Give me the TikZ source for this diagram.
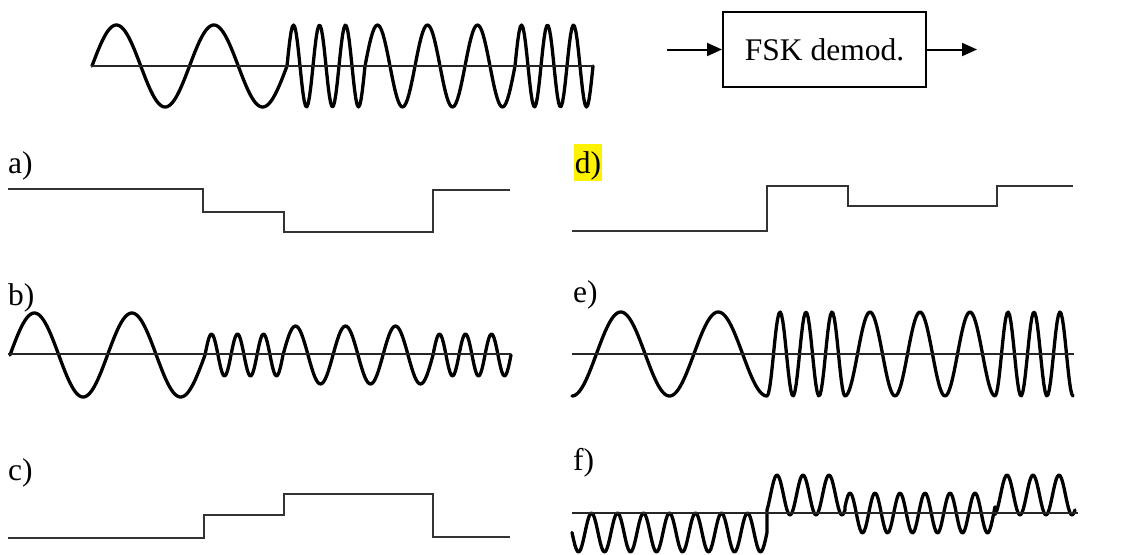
\documentclass[tikz,border=0pt]{standalone}
\usepackage{fontspec}
\setmainfont{Liberation Serif}
\usetikzlibrary{arrows.meta}
\begin{document}
\begin{tikzpicture}[x=1pt,y=-1pt,
  wave/.style={line width=3.3pt, line join=round, line cap=round, black},
  axisline/.style={line width=1.4pt, black!85},
  level/.style={line width=2.2pt, black!80, line join=miter},
  lab/.style={anchor=base west, inner sep=0pt, text height=29pt, text depth=8pt, font=\fontsize{31.5}{31.5}\selectfont},
  blockbox/.style={draw, line width=2pt, minimum width=203pt, minimum height=75pt, inner sep=0pt, font=\fontsize{31.5}{31.5}\selectfont},
  arr/.style={line width=2pt, -{Triangle[length=15pt,width=13pt]}}]
\useasboundingbox (0,0) rectangle (1121,554);

% ---- top: input signal and demodulator block
\draw[wave] plot[domain=92:287,samples=130] (\x,{66-41*sin(((\x-92)/97.5)*360)})
 -- plot[domain=287:365,samples=60] (\x,{66-41*sin(((\x-287)/26)*360)})
 -- plot[domain=365:515,samples=100] (\x,{66-41*sin(((\x-365)/50)*360)})
 -- plot[domain=515:593,samples=60] (\x,{66-41*sin(((\x-515)/26)*360)});
\draw[axisline] (91,66) -- (593,66);

\node[blockbox] (demod) at (824.5,49.5) {FSK demod.};
\coordinate (in) at (667,49.5);
\coordinate (out) at (977,49.5);
\draw[arr] (in) -- (demod.west);
\draw[arr] (demod.east) -- (out);

% ---- labels
\node[lab] (la) at (8,173) {a)};
\node[lab, fill=yellow, inner xsep=0.6pt] (ld) at (574,173) {d)};
\node[lab] (lb) at (8,305) {b)};
\node[lab] (le) at (573,302) {e)};
\node[lab] (lc) at (8,480) {c)};
\node[lab] (lf) at (573,470) {f)};

% ---- a)
\draw[level] (8,189) -- (203,189) -- (203,212) -- (284,212) -- (284,232) -- (433,232) -- (433,190) -- (510,190);
% ---- d)
\draw[level] (572,231) -- (767,231) -- (767,186) -- (848,186) -- (848,206) -- (997,206) -- (997,186) -- (1073,186);
% ---- c)
\draw[level] (8,538) -- (204,538) -- (204,515) -- (284,515) -- (284,494) -- (433,494) -- (433,537) -- (510,537);

% ---- b)
\draw[wave] plot[domain=10:205,samples=130] (\x,{355-42*sin(((\x-10)/97.5)*360)})
 -- plot[domain=205:283,samples=60] (\x,{355-21*sin(((\x-205)/26)*360)})
 -- plot[domain=283:433,samples=100] (\x,{355-29*sin(((\x-283)/50)*360)})
 -- plot[domain=433:511,samples=60] (\x,{355-21*sin(((\x-433)/26)*360)});
\draw[axisline] (8,354) -- (511,354);

% ---- e)
\draw[wave] plot[domain=572:767,samples=130] (\x,{354+42*cos(((\x-572)/97.5)*360)})
 -- plot[domain=767:845,samples=60] (\x,{354+42*cos(((\x-767)/26)*360)})
 -- plot[domain=845:995,samples=100] (\x,{354+42*cos(((\x-845)/50)*360)})
 -- plot[domain=995:1073,samples=60] (\x,{354+42*cos(((\x-995)/26)*360)});
\draw[axisline] (572,354) -- (1074,354);

% ---- f)
\draw[wave] plot[domain=572:767,samples=140] (\x,{532.5+19.5*sin(((\x-572)/26)*360)})
 -- plot[domain=767:845,samples=60] (\x,{495-20*cos(((\x-777)/26)*360)})
 -- plot[domain=845:995,samples=110] (\x,{513-20*cos(((\x-850)/25)*360)})
 -- plot[domain=995:1075,samples=60] (\x,{495-20*cos(((\x-1007)/26)*360)});
\draw[axisline] (572,513) -- (1078,513);
\end{tikzpicture}
\end{document}
